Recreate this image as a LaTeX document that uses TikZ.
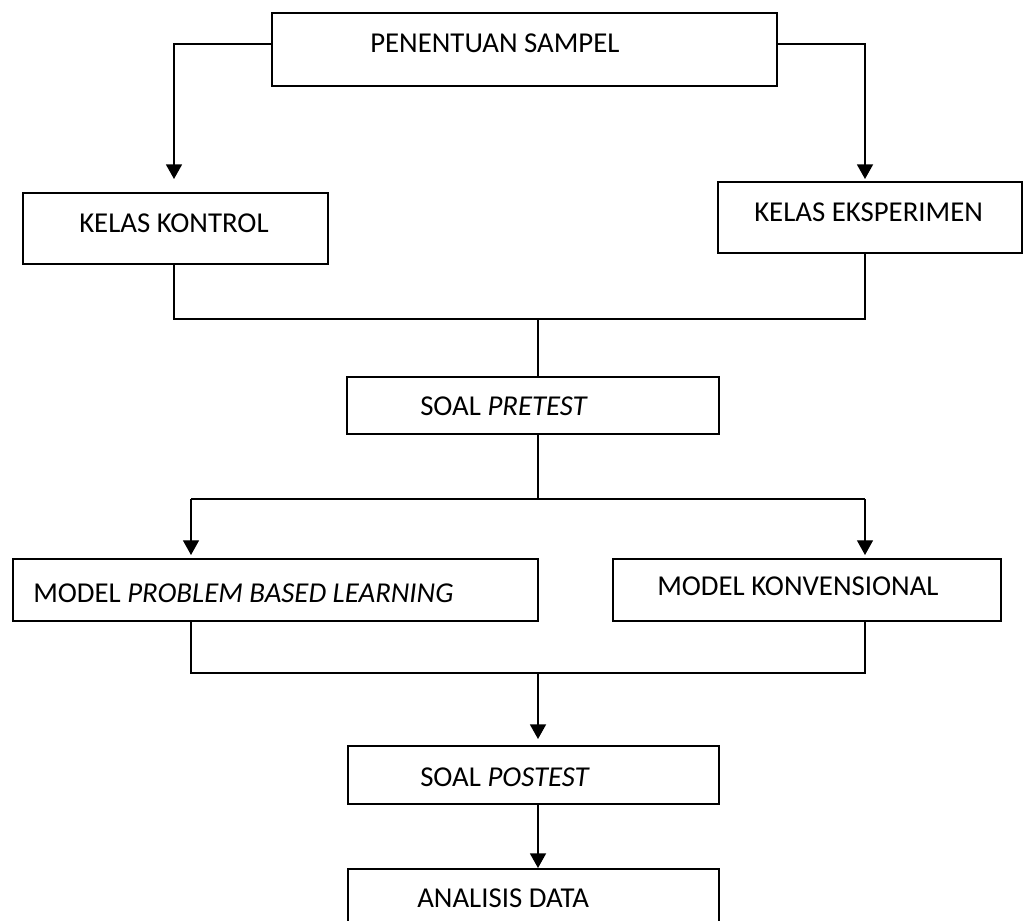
\documentclass[tikz,border=0pt]{standalone}
\usepackage{fontspec}
\setmainfont{Carlito}
\usetikzlibrary{arrows.meta,fit}
\begin{document}
\begin{tikzpicture}[x=0.75pt,y=-0.75pt,
  box/.style={draw, line width=1pt, inner sep=0pt, fit={#1}},
  lbl/.style={anchor=base west, inner sep=0pt, font=\fontsize{21.6pt}{26pt}\selectfont},
  ln/.style={line width=0.8pt},
  arrmid/.style={line width=0.9pt, -{Triangle[length=11pt,width=12pt]}},
  arrthick/.style={line width=1.3pt, -{Triangle[length=11pt,width=12pt]}}]
\useasboundingbox (0,0) rectangle (1036,921);
% boxes
\node[box={(272,13) (777,86)}] (pen) {};
\node[box={(23,193) (328,264)}] (kk) {};
\node[box={(718,182) (1022,253)}] (ke) {};
\node[box={(347,377) (719,434)}] (pre) {};
\node[box={(13,559) (538,621)}] (pbl) {};
\node[box={(613,559) (1001,621)}] (kon) {};
\node[box={(348,746) (719,804)}] (post) {};
\node[box={(348,869) (719,940)}] (ana) {};
% texts
\node[lbl] (tpen) at (370,52) {PENENTUAN SAMPEL};
\node[lbl] (tkk) at (79,232) {KELAS KONTROL};
\node[lbl] (tke) at (754,221) {KELAS EKSPERIMEN};
\node[lbl] (tpre) at (420,415) {SOAL \textit{PRETEST}};
\node[lbl] (tpbl) at (33,602) {MODEL \textit{PROBLEM BASED LEARNING}};
\node[lbl] (tkon) at (657,595) {MODEL KONVENSIONAL};
\node[lbl] (tpost) at (420,786) {SOAL \textit{POSTEST}};
\node[lbl] (tana) at (417,907) {ANALISIS DATA};
% coordinates
\coordinate (kkin) at (174,179);
\coordinate (kein) at (865,179);
\coordinate (j1) at (538,319);
\coordinate (j2) at (538,499);
\coordinate (pblin) at (191,555);
\coordinate (konin) at (865,555);
\coordinate (j3) at (538,673);
\coordinate (postin) at (538,739);
\coordinate (anain) at (538,868);
% connectors
\draw[arrthick] ([yshift=-24pt]pen.north west) -| (kkin);
\draw[arrthick] ([yshift=-24pt]pen.north east) -| (kein);
\draw[ln] (kk.south -| kkin) |- (j1) -| (ke.south -| kein);
\draw[ln] (j1) -- (pre.north -| j1);
\draw[ln] (pre.south -| j2) -- (j2);
\draw[ln] (pblin |- j2) -- (konin |- j2);
\draw[arrmid] (pblin |- j2) -- (pblin);
\draw[arrmid] (konin |- j2) -- (konin);
\draw[ln] (pbl.south -| pblin) |- (j3) -| (kon.south -| konin);
\draw[arrthick] (j3) -- (postin);
\draw[arrthick] (post.south -| j3) -- (anain);
\end{tikzpicture}
\end{document}
